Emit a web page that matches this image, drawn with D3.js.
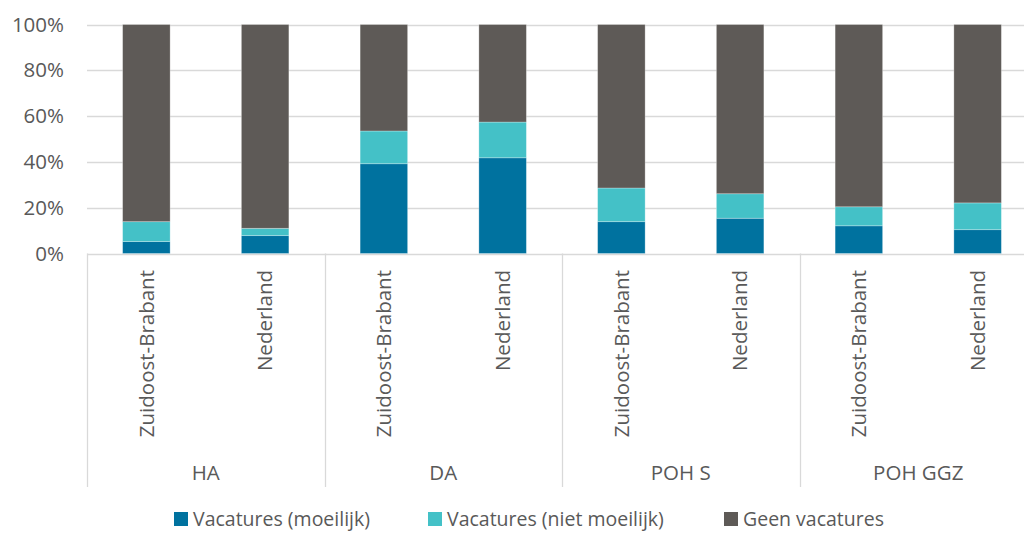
<!DOCTYPE html>
<meta charset="utf-8">
<script src="https://d3js.org/d3.v7.min.js"></script>
<style>
  body { margin: 0; background: #fff; }
  text { font-family: "Open Sans", sans-serif; fill: #595959; }
</style>
<div id="chart"></div>
<script>
// data
var groups = ["HA", "DA", "POH S", "POH GGZ"];
var regions = ["Zuidoost-Brabant", "Nederland"];
var seriesNames = ["Vacatures (moeilijk)", "Vacatures (niet moeilijk)", "Geen vacatures"];
var moeilijk    = [5.2, 7.8, 39.2, 41.8, 13.9, 15.4, 12.1, 10.4];
var nietMoeilijk = [8.7, 3.2, 14.3, 15.6, 14.7, 10.7, 8.3, 11.7];
var geen        = [86.1, 89.0, 46.5, 42.6, 71.4, 73.9, 79.6, 77.9];
var yTicks = [0, 20, 40, 60, 80, 100];
var colors = ["#00729f", "#44c1c7", "#5e5a57"];

var width = 1024, height = 533;
var plotLeft = 87, plotRight = 1037, plotTop = 24.5, plotBottom = 253.5;
var fontSize = "20.5px";

var rows = [];
groups.forEach(function(g, gi) {
  regions.forEach(function(r, ri) {
    var i = gi * regions.length + ri;
    rows.push({ key: g + "|" + r, group: g, region: r,
      s0: moeilijk[i], s1: nietMoeilijk[i], s2: geen[i] });
  });
});

var svg = d3.select("#chart").append("svg")
  .attr("width", width)
  .attr("height", height);

var x = d3.scaleBand()
  .domain(rows.map(function(d) { return d.key; }))
  .range([plotLeft, plotRight])
  .paddingInner(0.6)
  .paddingOuter(0.3);

var y = d3.scaleLinear().domain([0, 100]).range([plotBottom, plotTop]);

// gridlines
svg.append("g").selectAll("line")
  .data(yTicks)
  .enter().append("line")
  .attr("x1", plotLeft).attr("x2", plotRight)
  .attr("y1", function(d) { return Math.round(y(d)) + 0.5; })
  .attr("y2", function(d) { return Math.round(y(d)) + 0.5; })
  .attr("stroke", "#d9d9d9")
  .attr("stroke-width", 1.3);

// y tick labels
svg.append("g").selectAll("text")
  .data(yTicks)
  .enter().append("text")
  .attr("x", 64)
  .attr("y", function(d) { return y(d); })
  .attr("dy", "0.35em")
  .attr("text-anchor", "end")
  .style("font-size", fontSize)
  .text(function(d) { return d + "%"; });

// stacked bars
var stack = d3.stack().keys(["s0", "s1", "s2"]);
var layers = stack(rows);

svg.append("g").selectAll("g")
  .data(layers)
  .enter().append("g")
  .attr("fill", function(d, i) { return colors[i]; })
  .selectAll("rect")
  .data(function(d) { return d; })
  .enter().append("rect")
  .attr("x", function(d) { return x(d.data.key); })
  .attr("width", x.bandwidth())
  .attr("y", function(d) { return y(d[1]); })
  .attr("height", function(d) { return y(d[0]) - y(d[1]); })
  .attr("stroke", "#ffffff")
  .attr("stroke-opacity", 0.35)
  .attr("stroke-width", 0.8);

// category axis: group separators
var groupWidth = (plotRight - plotLeft) / groups.length;
var sepX = d3.range(groups.length + 1).map(function(i) { return plotLeft + i * groupWidth; });
svg.append("g").selectAll("line")
  .data(sepX)
  .enter().append("line")
  .attr("x1", function(d) { return Math.round(d) + 0.5; })
  .attr("x2", function(d) { return Math.round(d) + 0.5; })
  .attr("y1", plotBottom)
  .attr("y2", 487)
  .attr("stroke", "#d9d9d9")
  .attr("stroke-width", 1.3);

// region labels (rotated)
svg.append("g").selectAll("text")
  .data(rows)
  .enter().append("text")
  .attr("transform", function(d) {
    return "translate(" + (x(d.key) + x.bandwidth() / 2) + ",270) rotate(-90)";
  })
  .attr("dy", "0.35em")
  .attr("text-anchor", "end")
  .style("font-size", fontSize)
  .text(function(d) { return d.region; });

// group labels
svg.append("g").selectAll("text")
  .data(groups)
  .enter().append("text")
  .attr("x", function(d, i) { return plotLeft + (i + 0.5) * groupWidth; })
  .attr("y", 480)
  .attr("text-anchor", "middle")
  .style("font-size", fontSize)
  .text(function(d) { return d; });

// legend
var legendX = [174, 428, 724];
var legend = svg.append("g").selectAll("g")
  .data(seriesNames)
  .enter().append("g")
  .attr("transform", function(d, i) { return "translate(" + legendX[i] + ",512)"; });
legend.append("rect")
  .attr("width", 14).attr("height", 14)
  .attr("fill", function(d, i) { return colors[i]; });
legend.append("text")
  .attr("x", 19)
  .attr("y", 7)
  .attr("dy", "0.35em")
  .style("font-size", "19.5px")
  .text(function(d) { return d; });
</script>
